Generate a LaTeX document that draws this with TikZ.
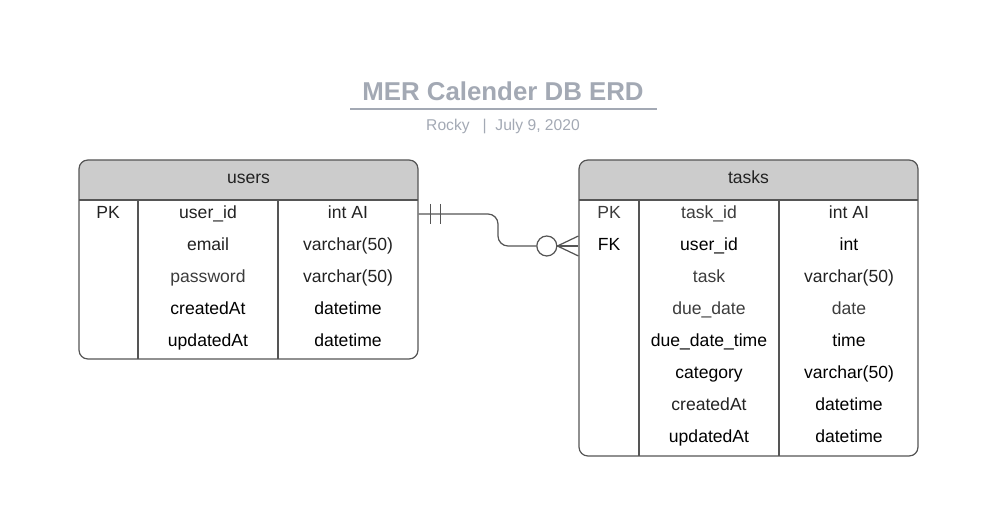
\documentclass[tikz,border=0pt]{standalone}
\usepackage{fontspec}
\setmainfont{Liberation Sans}
\usetikzlibrary{positioning}

\definecolor{titlegray}{RGB}{163,169,180}
\definecolor{headgray}{RGB}{204,204,204}
\definecolor{linegray}{RGB}{85,85,85}
\definecolor{textdark}{RGB}{34,34,34}
\definecolor{textlight}{RGB}{60,60,60}

\begin{document}
\begin{tikzpicture}[x=0.02cm,y=-0.02cm,node distance=0cm]

      \tikzstyle{every node}=[font=\fontsize{10}{12}\selectfont]
      \tikzstyle{cell}=[inner sep=0pt,outer sep=0pt,minimum height=0.64cm,text height=0.75em,text depth=0.25em,align=center,text=textdark]
      \tikzstyle{light}=[text=textlight]
      \tikzstyle{blk}=[text=black]
      \tikzstyle{frame}=[draw=linegray,line width=0.7pt,rounded corners=5,inner sep=0pt,minimum width=6.78cm]
      \tikzstyle{rel}=[draw=linegray,line width=0.7pt]

      \useasboundingbox (0,0) rectangle (983,526);

      \node[font=\bfseries\fontsize{14.7}{16}\selectfont,text=titlegray] (Title) at (503,91) {MER Calender DB ERD};
      \draw[titlegray,line width=1.2pt] (350,109) -- (657,109);
      \node[font=\fontsize{8.9}{11}\selectfont,text=titlegray] (Sub) at (503,126) {Rocky \ \ | \ July 9, 2020};

      % users
      \fill[headgray] (79,200) [rounded corners=5] -- (79,160) -- (418,160) [sharp corners] -- (418,200) -- cycle;
      \node[frame,minimum height=3.98cm] (U) at (248.5,259.5) {};
      \draw[rel] (79,200) -- (418,200);
      \draw[rel] (138,200) -- (138,359);
      \draw[rel] (278,200) -- (278,359);
      \node[cell] (Uh) at (248.5,179.5) {users};

      \node[cell] (Upk) at (108,214) {PK};
      \node[cell] (Uid) at (208,214) {user\_id};
      \node[cell] (Uidt) at (348,214) {int AI};
      \node[cell,below=of Uid] (Uem) {email};
      \node[cell,below=of Uidt] (Uemt) {varchar(50)};
      \node[cell,light,below=of Uem] (Upw) {password};
      \node[cell,below=of Uemt] (Upwt) {varchar(50)};
      \node[cell,blk,below=of Upw] (Uca) {createdAt};
      \node[cell,blk,below=of Upwt] (Ucat) {datetime};
      \node[cell,blk,below=of Uca] (Uua) {updatedAt};
      \node[cell,blk,below=of Ucat] (Uuat) {datetime};

      % tasks
      \fill[headgray] (579,200) [rounded corners=5] -- (579,160) -- (918,160) [sharp corners] -- (918,200) -- cycle;
      \node[frame,minimum height=5.92cm] (T) at (748.5,308) {};
      \draw[rel] (579,200) -- (918,200);
      \draw[rel] (639,200) -- (639,456);
      \draw[rel] (779,200) -- (779,456);
      \node[cell] (Th) at (748.5,179.5) {tasks};

      \node[cell,light] (Tpk) at (609,214) {PK};
      \node[cell,light] (Tid) at (709,214) {task\_id};
      \node[cell] (Tidt) at (849,214) {int AI};
      \node[cell,blk,below=of Tpk] (Tfk) {FK};
      \node[cell,blk,below=of Tid] (Tuid) {user\_id};
      \node[cell,blk,below=of Tidt] (Tuidt) {int};
      \node[cell,light,below=of Tuid] (Ttk) {task};
      \node[cell,below=of Tuidt] (Ttkt) {varchar(50)};
      \node[cell,light,below=of Ttk] (Tdd) {due\_date};
      \node[cell,light,below=of Ttkt] (Tddt) {date};
      \node[cell,blk,below=of Tdd] (Tdt) {due\_date\_time};
      \node[cell,blk,below=of Tddt] (Tdtt) {time};
      \node[cell,blk,below=of Tdt] (Tcg) {category};
      \node[cell,blk,below=of Tdtt] (Tcgt) {varchar(50)};
      \node[cell,below=of Tcg] (Tca) {createdAt};
      \node[cell,blk,below=of Tcgt] (Tcat) {datetime};
      \node[cell,blk,below=of Tca] (Tua) {updatedAt};
      \node[cell,blk,below=of Tcat] (Tuat) {datetime};

      % relation users 1 -- 0..n tasks
      \coordinate (S) at (U.east |- Uid.center);
      \coordinate (F) at (T.west |- Tuid.center);
      \coordinate (Mx) at (498,0);
      \coordinate (M) at (Mx |- F);
      \node[draw=linegray,line width=0.7pt,circle,minimum size=0.4cm,inner sep=0pt] (C) [left=0.42cm of F] {};

      \draw[rel,rounded corners=0.2cm] (S) -| (M) -- (C.west);
      \draw[rel] ([xshift=0.24cm,yshift=0.2cm]S) -- ([xshift=0.24cm,yshift=-0.2cm]S);
      \draw[rel] ([xshift=0.44cm,yshift=0.2cm]S) -- ([xshift=0.44cm,yshift=-0.2cm]S);
      \draw[rel] (C.east) -- ([yshift=0.2cm]F);
      \draw[rel] (C.east) -- (F);
      \draw[rel] (C.east) -- ([yshift=-0.2cm]F);
    \end{tikzpicture}
\end{document}
